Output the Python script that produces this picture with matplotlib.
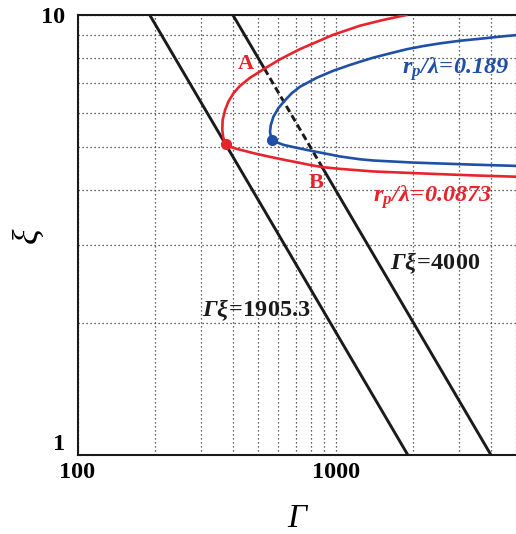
import matplotlib
matplotlib.use("Agg")
import matplotlib.pyplot as plt
from matplotlib.ticker import LogLocator, NullFormatter

### values ###################################################################

# r_p/lambda = 0.0873 curve (upper branch -> nose -> lower branch)
gamma_red = [1877, 1500, 1239, 976, 726, 609, 530, 466, 426, 402, 384, 373, 365, 364,
             367, 375, 390, 410, 439, 490, 557, 640, 730, 800, 891, 1040, 1400, 2253,
             3400, 5000]
xi_red = [10.0, 9.72, 9.45, 9.01, 8.36, 7.93, 7.55, 7.20, 6.90, 6.64, 6.35, 6.08, 5.77, 5.48,
          5.27, 5.08, 5.02, 4.97, 4.92, 4.84, 4.76, 4.68, 4.61, 4.56, 4.51, 4.47, 4.41, 4.36,
          4.32, 4.29]

# r_p/lambda = 0.189 curve
gamma_blue = [5000, 4335, 3627, 3034, 2538, 2187, 1886, 1625, 1400, 1243, 1137, 980, 845,
              728, 676, 637, 600, 574, 561, 557, 562, 568, 600, 627, 707, 795, 900, 1040,
              1243, 1400, 1991, 3420, 5000]
xi_blue = [9.00, 8.93, 8.83, 8.74, 8.62, 8.50, 8.36, 8.18, 8.00, 7.83, 7.70, 7.47, 7.20,
           6.87, 6.64, 6.40, 6.14, 5.87, 5.62, 5.43, 5.27, 5.20, 5.12, 5.07, 4.99, 4.92, 4.85,
           4.77, 4.70, 4.67, 4.62, 4.57, 4.54]

# Gamma*xi = 1905.3 and Gamma*xi = 4000 (ends and the A / B crossings)
gamma_1905 = [190.53, 1905.3]
xi_1905 = [10.0, 1.0]
gamma_4000 = [400, 530, 891, 4000]
xi_4000 = [10.0, 7.55, 4.49, 1.0]

dot_red = (375, 5.08)
dot_blue = (568, 5.20)

x_ticks = [100, 1000]
x_ticklabels = ['100', '1000']
y_ticks = [1, 10]
y_ticklabels = ['1', '10']

### style ######################################################################

RED = '#e8232c'
BLUE = '#1f4fa6'
BLACK = '#1a1a1a'

plt.rcParams['font.family'] = ['Liberation Serif', 'DejaVu Serif']
plt.rcParams['font.weight'] = 'bold'
plt.rcParams['mathtext.fontset'] = 'custom'
plt.rcParams['mathtext.rm'] = 'Liberation Serif:bold'
plt.rcParams['mathtext.bf'] = 'Liberation Serif:bold'
plt.rcParams['mathtext.it'] = 'Liberation Serif:bold:italic'
plt.rcParams['mathtext.sf'] = 'Liberation Serif:bold:italic'

fig = plt.figure(figsize=(5.16, 5.34), dpi=100)
ax = fig.add_axes([77.5 / 516, 79 / 534, 438.5 / 516, 440 / 534])

ax.set_xscale('log')
ax.set_yscale('log')
ax.set_xlim(100, 5000)
ax.set_ylim(1, 10)

### curves ######################################################################

ax.plot(gamma_red, xi_red, color=RED, lw=1.9, solid_joinstyle='round', zorder=4)
ax.plot(gamma_blue, xi_blue, color=BLUE, lw=1.9, solid_joinstyle='round', zorder=4)

ax.plot(gamma_1905, xi_1905, color=BLACK, lw=2.1, zorder=3)
ax.plot(gamma_4000[:2], xi_4000[:2], color=BLACK, lw=2.1, zorder=3)
ax.plot(gamma_4000[2:], xi_4000[2:], color=BLACK, lw=2.1, zorder=3)
ax.plot(gamma_4000[1:3], xi_4000[1:3], color=BLACK, lw=2.1,
        linestyle=(0, (2.4, 1.3)), zorder=3)

ax.plot(*dot_red, 'o', color=RED, ms=7, zorder=5)
ax.plot(*dot_blue, 'o', color=BLUE, ms=7, zorder=5)

### labels ######################################################################

ax.text(450, 7.74, 'A', color=RED, fontsize=16, ha='center', va='center')
ax.text(839, 4.15, 'B', color=RED, fontsize=16, ha='center', va='center')
ax.text(1392, 3.76, r'$\mathsf{r_p/λ\!=\!0.0873}$', color=RED, fontsize=17.5,
        ha='left', va='baseline')
ax.text(1803, 7.37, r'$\mathsf{r_p/λ\!=\!0.189}$', color=BLUE, fontsize=17.5,
        ha='left', va='baseline')
ax.text(1625, 2.64, r'$\mathsf{Γξ}\!=\!\mathrm{4000}$', color=BLACK, fontsize=17.5,
        ha='left', va='baseline')
ax.text(303, 2.07, r'$\mathsf{Γξ}\!=\!\mathrm{1905.3}$', color=BLACK, fontsize=17.5,
        ha='left', va='baseline')

ax.set_xlabel('Γ', fontsize=24, fontstyle='italic', fontweight='normal', labelpad=15)
ax.set_ylabel('ξ', fontsize=26, fontstyle='italic', fontweight='normal', labelpad=-3)

### axes ########################################################################

ax.set_xticks(x_ticks)
ax.set_xticklabels(x_ticklabels)
ax.set_yticks(y_ticks)
ax.set_yticklabels(y_ticklabels)
ax.xaxis.set_minor_locator(LogLocator(base=10, subs=range(2, 10)))
ax.yaxis.set_minor_locator(LogLocator(base=10, subs=range(2, 10)))
ax.xaxis.set_minor_formatter(NullFormatter())
ax.yaxis.set_minor_formatter(NullFormatter())
ax.tick_params(which='both', length=0, labelsize=17.5)
ax.tick_params(axis='x', pad=5)
ax.tick_params(axis='y', pad=9)
# the "1" sits a little above the corner, clear of the "100"
ax.get_yticklabels()[0].set_va('bottom')

ax.grid(True, which='both', color='#333333', lw=0.9, linestyle=(0, (1, 2.2)))
ax.set_axisbelow(True)

for s in ['left', 'bottom', 'top']:
    ax.spines[s].set_linewidth(1.5)
    ax.spines[s].set_color(BLACK)
ax.spines['right'].set_visible(False)

fig.savefig('out.png', dpi=100)
